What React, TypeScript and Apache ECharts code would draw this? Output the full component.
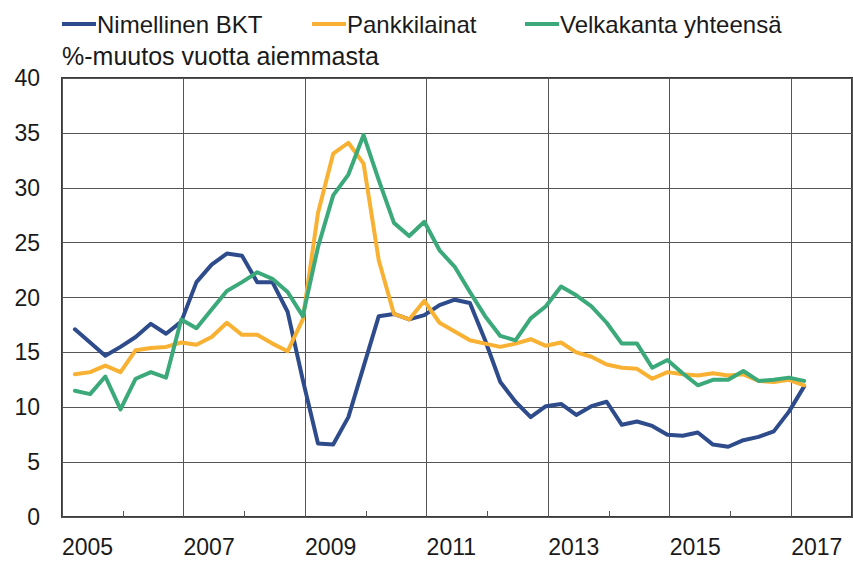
import React, { useEffect, useRef } from "react";
import * as echarts from "echarts";

// Quarterly data 2005Q1 .. 2017Q1, year-on-year % change
const START_YEAR = 2005;
const END_YEAR = 2018;
const QUARTER_OFFSET = 0.85; // position of each quarterly point within its quarter

const seriesNames = ["Nimellinen BKT", "Pankkilainat", "Velkakanta yhteensä"];
const seriesColors = ["#2E4B8B", "#F8B133", "#3BA97A"];
const unitLabel = "%-muutos vuotta aiemmasta";

const nominalGdp = [
  17.1, 15.9, 14.7, 15.5, 16.4, 17.6, 16.7, 17.8, 21.4, 23.0,
  24.0, 23.8, 21.4, 21.4, 18.7, 12.5, 6.7, 6.6, 9.1, 13.7,
  18.3, 18.5, 18.0, 18.4, 19.3, 19.8, 19.5, 16.1, 12.3, 10.5,
  9.1, 10.1, 10.3, 9.3, 10.1, 10.5, 8.4, 8.7, 8.3, 7.5,
  7.4, 7.7, 6.6, 6.4, 7.0, 7.3, 7.8, 9.6, 11.9,
];
const bankLoans = [
  13.0, 13.2, 13.8, 13.2, 15.2, 15.4, 15.5, 15.9, 15.7, 16.4,
  17.7, 16.6, 16.6, 15.8, 15.1, 18.0, 27.7, 33.1, 34.1, 32.2,
  23.4, 18.5, 18.0, 19.7, 17.7, 16.9, 16.1, 15.8, 15.5, 15.8,
  16.2, 15.6, 15.9, 15.0, 14.6, 13.9, 13.6, 13.5, 12.6, 13.2,
  13.0, 12.9, 13.1, 12.9, 13.0, 12.4, 12.3, 12.5, 12.0,
];
const totalDebt = [
  11.5, 11.2, 12.8, 9.8, 12.6, 13.2, 12.7, 18.0, 17.2, 18.9,
  20.6, 21.4, 22.3, 21.7, 20.5, 18.3, 24.6, 29.3, 31.2, 34.8,
  30.7, 26.8, 25.6, 26.9, 24.3, 22.8, 20.5, 18.3, 16.5, 16.1,
  18.1, 19.2, 21.0, 20.2, 19.2, 17.7, 15.8, 15.8, 13.6, 14.3,
  13.1, 12.0, 12.5, 12.5, 13.3, 12.4, 12.5, 12.7, 12.4,
];
const seriesValues = [nominalGdp, bankLoans, totalDebt];

const Y_MIN = 0;
const Y_MAX = 40;
const Y_STEP = 5;
const LABEL_YEAR_STEP = 2;

const FONT = "'Liberation Sans', Arial, Helvetica, sans-serif";
const TEXT_COLOR = "#1a1a1a";

const toPoints = (vals: number[]) =>
  vals.map((v, i) => [START_YEAR + (i + QUARTER_OFFSET) / 4, v]);

const legendLefts = [62, 312, 525];

export default function App() {
  const ref = useRef<HTMLDivElement | null>(null);

  useEffect(() => {
    if (!ref.current) return;
    const chart = echarts.init(ref.current, undefined, { renderer: "svg" });

    const option: any = {
      animation: false,
      backgroundColor: "#ffffff",
      textStyle: { fontFamily: FONT },
      title: {
        text: unitLabel,
        left: 62,
        top: 43,
        padding: 0,
        textStyle: {
          fontFamily: FONT,
          fontSize: 25,
          fontWeight: "normal",
          color: TEXT_COLOR,
        },
      },
      legend: seriesNames.map((name, i) => ({
        data: [name],
        left: legendLefts[i],
        top: 12,
        padding: 0,
        icon: "rect",
        itemWidth: 34,
        itemHeight: 4,
        selectedMode: false,
        textStyle: {
          fontFamily: FONT,
          fontSize: 24,
          color: TEXT_COLOR,
          padding: [0, 0, 0, -4],
        },
      })),
      grid: {
        left: 62,
        right: 1,
        top: 78,
        bottom: 44,
        show: true,
        borderColor: "#3a3a3a",
        borderWidth: 2,
        backgroundColor: "transparent",
      },
      xAxis: [
        {
          type: "value",
          min: START_YEAR,
          max: END_YEAR,
          interval: LABEL_YEAR_STEP,
          axisLine: { show: false },
          axisTick: { show: false },
          splitLine: { show: true, lineStyle: { color: "#555555", width: 1 } },
          axisLabel: {
            show: true,
            align: "left",
            margin: 18,
            fontFamily: FONT,
            fontSize: 23,
            color: TEXT_COLOR,
            showMaxLabel: false,
            formatter: (v: number) => (v >= END_YEAR ? "" : String(v)),
          },
        },
        {
          type: "value",
          min: START_YEAR,
          max: END_YEAR,
          interval: 1,
          position: "bottom",
          axisLine: { show: false },
          axisTick: {
            show: true,
            inside: true,
            length: 6,
            lineStyle: { color: "#555555", width: 1 },
          },
          axisLabel: { show: false },
          splitLine: { show: false },
        },
      ],
      yAxis: {
        type: "value",
        min: Y_MIN,
        max: Y_MAX,
        interval: Y_STEP,
        axisLine: { show: false },
        axisTick: { show: false },
        splitLine: { show: true, lineStyle: { color: "#555555", width: 1 } },
        axisLabel: {
          margin: 22,
          fontFamily: FONT,
          fontSize: 23,
          color: TEXT_COLOR,
        },
      },
      series: seriesNames.map((name, i) => ({
        name,
        type: "line",
        xAxisIndex: 0,
        data: toPoints(seriesValues[i]),
        showSymbol: false,
        symbol: "none",
        color: seriesColors[i],
        lineStyle: { color: seriesColors[i], width: 4, join: "round", cap: "round" },
        emphasis: { disabled: true },
      })),
    };

    chart.setOption(option);
    return () => chart.dispose();
  }, []);

  return (
    <div
      ref={ref}
      style={{ position: "fixed", left: 0, top: 0, width: 853, height: 561 }}
    />
  );
}
